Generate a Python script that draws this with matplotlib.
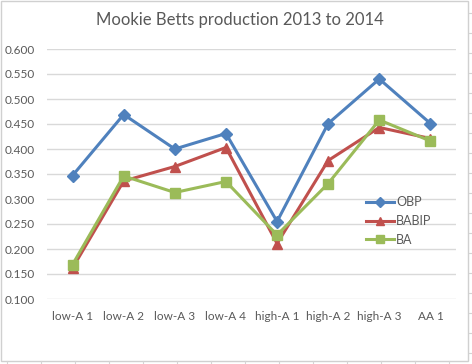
import matplotlib
matplotlib.use('Agg')
import matplotlib.pyplot as plt
from matplotlib.lines import Line2D

levels = ['low-A 1', 'low-A 2', 'low-A 3', 'low-A 4', 'high-A 1', 'high-A 2', 'high-A 3', 'AA 1']
obp = [0.347, 0.469, 0.400, 0.431, 0.255, 0.451, 0.540, 0.451]
babip = [0.162, 0.336, 0.365, 0.403, 0.211, 0.377, 0.443, 0.421]
ba = [0.169, 0.346, 0.313, 0.335, 0.228, 0.331, 0.458, 0.416]
yticks = [0.1, 0.15, 0.2, 0.25, 0.3, 0.35, 0.4, 0.45, 0.5, 0.55, 0.6]

plt.rcParams['font.family'] = ['Lato', 'DejaVu Sans']
W, H = 472, 364
fig = plt.figure(figsize=(W / 100, H / 100), dpi=100)
fig.patch.set_facecolor('white')

# spreadsheet cell lines peeking out behind the chart
for x in range(7, W, 34):
    fig.add_artist(Line2D([x / W, x / W], [0, 3 / H], color='#D4D4D4', lw=0.8))
for y in range(13, H, 20):
    fig.add_artist(Line2D([469 / W, 1], [1 - y / H, 1 - y / H], color='#D4D4D4', lw=0.8))
# chart border
fig.add_artist(plt.Rectangle((0.5 / W, 1 - 361 / H), 467.5 / W, 360.5 / H, fill=False,
                             edgecolor='#D0D0D0', lw=1.0))

ax = fig.add_axes([47 / W, 1 - 299 / H, 409 / W, 250 / H])
x = list(range(len(levels)))
ax.plot(x, obp, color='#4F81BD', lw=2.2, marker='D', ms=6, label='OBP')
ax.plot(x, babip, color='#C0504D', lw=2.2, marker='^', ms=7, label='BABIP')
ax.plot(x, ba, color='#9BBB59', lw=2.2, marker='s', ms=6.5, label='BA')

ax.set_xlim(-0.5, len(levels) - 0.5)
ax.set_ylim(0.1, 0.6)
ax.set_yticks(yticks)
ax.set_yticklabels([f'{v:.3f}' for v in yticks])
ax.set_xticks(x)
ax.set_xticklabels(levels)
ax.grid(axis='y', color='#D9D9D9', lw=1.0)
ax.set_axisbelow(True)
for s in ax.spines.values():
    s.set_visible(False)
ax.tick_params(length=0, colors='#595959', labelsize=8.5)
ax.tick_params(axis='y', pad=9)
ax.tick_params(axis='x', pad=9)

fig.text(240 / W, 1 - 20 / H, 'Mookie Betts production 2013 to 2014', ha='center', va='center',
         fontsize=12, color='#595959')

leg = fig.legend(loc='upper left', bbox_to_anchor=(366 / W, 1 - 196 / H), frameon=False,
                 fontsize=9, handlelength=2.2, handletextpad=0.2, labelspacing=0.55,
                 borderaxespad=0, borderpad=0, markerscale=0.8)
for t in leg.get_texts():
    t.set_color('#595959')

fig.savefig('out.png', dpi=100)
